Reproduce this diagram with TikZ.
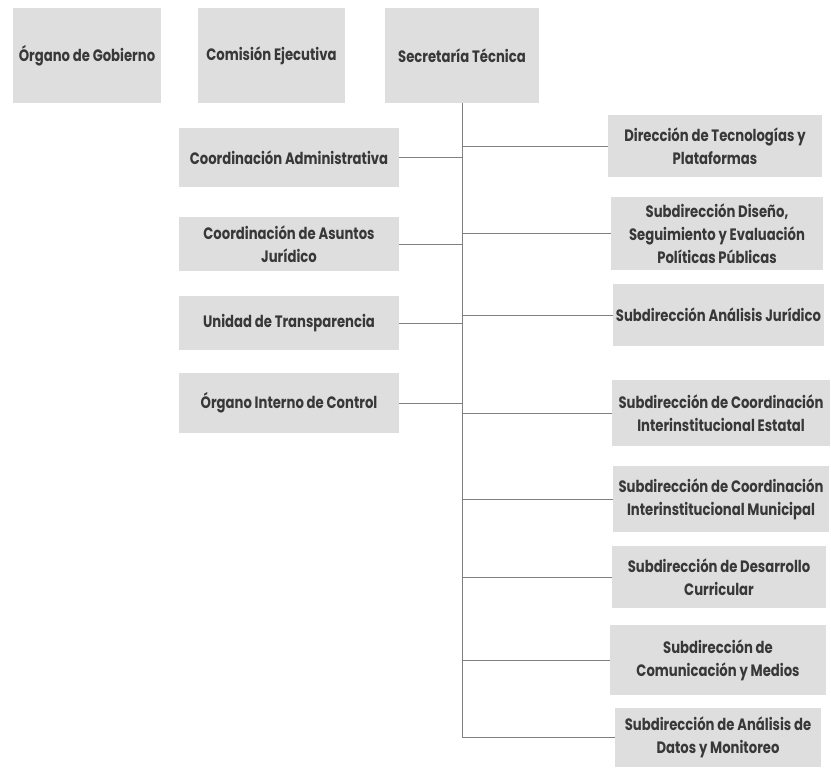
\documentclass[tikz,border=0pt]{standalone}
\usepackage{fontspec}
\setmainfont{Poppins}[FakeStretch=0.8]
\definecolor{boxgray}{HTML}{DEDEDE}
\definecolor{textgray}{HTML}{383838}
\definecolor{linegray}{HTML}{808080}
\tikzstyle{unit} = [rectangle, fill=boxgray, text=textgray, align=center, inner sep=0mm, font=\fontsize{16.5}{23}\selectfont\bfseries]
\tikzstyle{link} = [draw=linegray, line width=0.9pt]

\begin{document}
\begin{tikzpicture}[x=1pt, y=-1pt]
		\useasboundingbox (0,0) rectangle (831,768);
		% top row
		\foreach \x/\w/\n/\l in {87/148/gob/{Órgano de Gobierno}, 271.5/147/com/{Comisión Ejecutiva}, 462/154/sec/{Secretaría Técnica}}
		\node[unit, minimum width=\w, minimum height=95] (\n) at (\x,55.5) {\l};
		\draw[link] (sec.south) -- (sec.south |- 0,738);
		% left column
		\foreach \y/\h/\n/\l in {157.5/59/adm/{Coordinación Administrativa}, 244/54/jur/{Coordinación de Asuntos\\Jurídico}, 323/54/tra/{Unidad de Transparencia}, 403/60/oic/{Órgano Interno de Control}} {
			\node[unit, minimum width=220, minimum height=\h] (\n) at (289,\y) {\l};
			\draw[link] (\n.east) -- (\n.east -| sec.south);
		}
		% right column
		\foreach \x/\y/\w/\h/\n/\l in {715/146/214/62/tec/{Dirección de Tecnologías y\\Plataformas}, 717/233.5/212/73/dis/{Subdirección Diseño,\\Seguimiento y Evaluación\\Políticas Públicas}, 718.5/315/211/62/ana/{Subdirección Análisis Jurídico}, 721/413/218/66/est/{Subdirección de Coordinación\\Interinstitucional Estatal}, 721/499/216/66/mun/{Subdirección de Coordinación\\Interinstitucional Municipal}, 719/577/214/62/cur/{Subdirección de Desarrollo\\Curricular}, 718/660/216/70/med/{Subdirección de\\Comunicación y Medios}, 718/737.5/206/59/dat/{Subdirección de Análisis de\\Datos y Monitoreo}} {
			\node[unit, minimum width=\w, minimum height=\h] (\n) at (\x,\y) {\l};
			\draw[link] (\n.west) -- (\n.west -| sec.south);
		}
	\end{tikzpicture}
\end{document}
